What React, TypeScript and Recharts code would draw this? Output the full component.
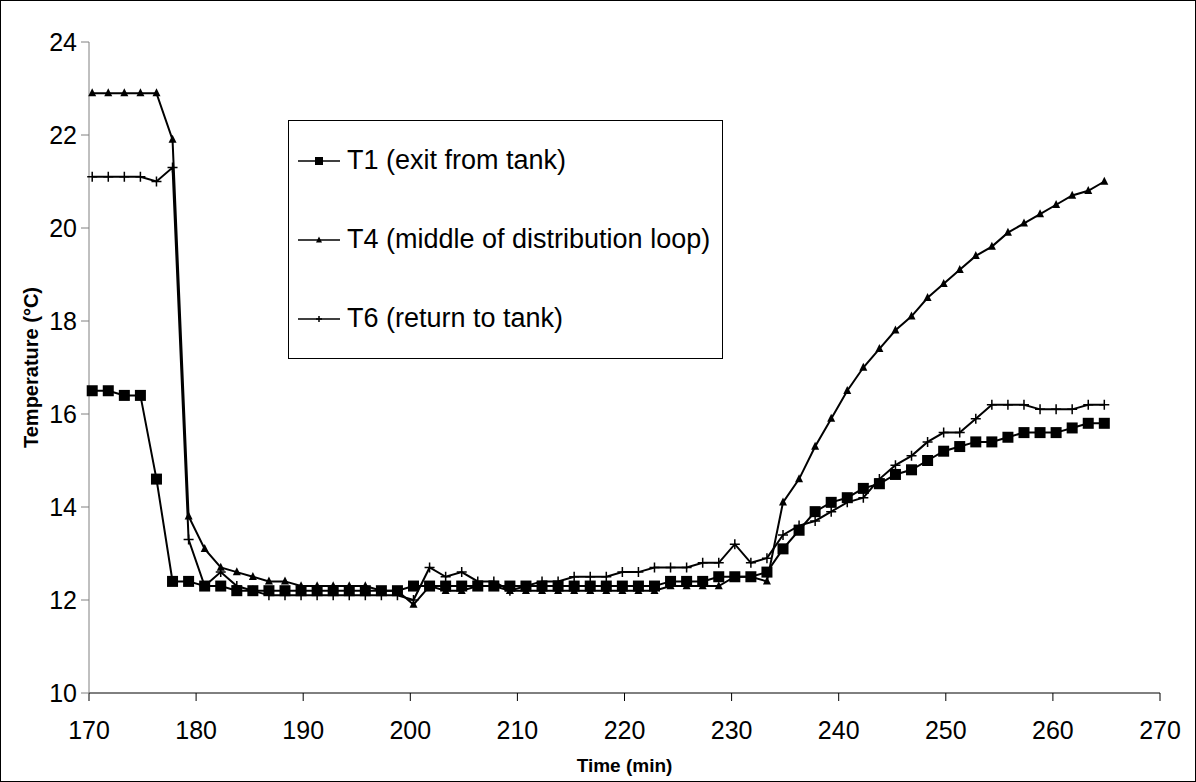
import { LineChart, Line, XAxis, YAxis, Legend } from "recharts";

// time (min) of each sample
const times = [
  170.3, 171.8, 173.3, 174.8, 176.3, 177.8, 179.3, 180.8, 182.3, 183.8,
  185.3, 186.8, 188.3, 189.8, 191.3, 192.8, 194.3, 195.8, 197.3, 198.8,
  200.3, 201.8, 203.3, 204.8, 206.3, 207.8, 209.3, 210.8, 212.3, 213.8,
  215.3, 216.8, 218.3, 219.8, 221.3, 222.8, 224.3, 225.8, 227.3, 228.8,
  230.3, 231.8, 233.3, 234.8, 236.3, 237.8, 239.3, 240.8, 242.3, 243.8,
  245.3, 246.8, 248.3, 249.8, 251.3, 252.8, 254.3, 255.8, 257.3, 258.8,
  260.3, 261.8, 263.3, 264.8,
];

// T1 (exit from tank)
const t1 = [
  16.5, 16.5, 16.4, 16.4, 14.6, 12.4, 12.4, 12.3, 12.3, 12.2,
  12.2, 12.2, 12.2, 12.2, 12.2, 12.2, 12.2, 12.2, 12.2, 12.2,
  12.3, 12.3, 12.3, 12.3, 12.3, 12.3, 12.3, 12.3, 12.3, 12.3,
  12.3, 12.3, 12.3, 12.3, 12.3, 12.3, 12.4, 12.4, 12.4, 12.5,
  12.5, 12.5, 12.6, 13.1, 13.5, 13.9, 14.1, 14.2, 14.4, 14.5,
  14.7, 14.8, 15.0, 15.2, 15.3, 15.4, 15.4, 15.5, 15.6, 15.6,
  15.6, 15.7, 15.8, 15.8,
];

// T4 (middle of distribution loop)
const t4 = [
  22.9, 22.9, 22.9, 22.9, 22.9, 21.9, 13.8, 13.1, 12.7, 12.6,
  12.5, 12.4, 12.4, 12.3, 12.3, 12.3, 12.3, 12.3, 12.2, 12.2,
  11.9, 12.3, 12.2, 12.2, 12.3, 12.3, 12.2, 12.2, 12.2, 12.2,
  12.2, 12.2, 12.2, 12.2, 12.2, 12.2, 12.3, 12.3, 12.3, 12.3,
  12.5, 12.5, 12.4, 14.1, 14.6, 15.3, 15.9, 16.5, 17.0, 17.4,
  17.8, 18.1, 18.5, 18.8, 19.1, 19.4, 19.6, 19.9, 20.1, 20.3,
  20.5, 20.7, 20.8, 21.0,
];

// T6 (return to tank)
const t6 = [
  21.1, 21.1, 21.1, 21.1, 21.0, 21.3, 13.3, 12.3, 12.6, 12.3,
  12.2, 12.1, 12.1, 12.1, 12.1, 12.1, 12.1, 12.1, 12.1, 12.1,
  12.0, 12.7, 12.5, 12.6, 12.4, 12.4, 12.2, 12.3, 12.4, 12.4,
  12.5, 12.5, 12.5, 12.6, 12.6, 12.7, 12.7, 12.7, 12.8, 12.8,
  13.2, 12.8, 12.9, 13.4, 13.6, 13.7, 13.9, 14.1, 14.2, 14.6,
  14.9, 15.1, 15.4, 15.6, 15.6, 15.9, 16.2, 16.2, 16.2, 16.1,
  16.1, 16.1, 16.2, 16.2,
];

const xTicks = [170, 180, 190, 200, 210, 220, 230, 240, 250, 260, 270];
const yTicks = [10, 12, 14, 16, 18, 20, 22, 24];

const data = times.map((t, i) => ({ t, t1: t1[i], t4: t4[i], t6: t6[i] }));

const square = (cx: number, cy: number, s: number) => (
  <rect x={cx - s / 2} y={cy - s / 2} width={s} height={s} fill="#000" />
);
const triangle = (cx: number, cy: number, s: number) => (
  <path
    d={`M${cx},${cy - s * 0.6}L${cx + s / 2},${cy + s * 0.4}L${cx - s / 2},${cy + s * 0.4}Z`}
    fill="#000"
  />
);
const plus = (cx: number, cy: number, s: number) => (
  <path
    d={`M${cx - s / 2},${cy}H${cx + s / 2}M${cx},${cy - s / 2}V${cy + s / 2}`}
    stroke="#000"
    strokeWidth={1.5}
  />
);

const markers: Record<string, (cx: number, cy: number, s: number) => any> = {
  t1: square,
  t4: triangle,
  t6: plus,
};

const dotFor = (key: string, size: number) => (p: any) =>
  p.cx == null || p.cy == null ? null : <g key={`${key}-${p.index}`}>{markers[key](p.cx, p.cy, size)}</g>;

const renderLegend = (props: any) => {
  const items = props.payload || [];
  return (
    <div
      style={{
        width: "100%",
        height: "100%",
        boxSizing: "border-box",
        border: "1px solid #000",
        background: "#fff",
      }}
    >
      {items.map((it: any) => (
        <div
          key={it.dataKey}
          style={{ height: 79, display: "flex", alignItems: "center", paddingLeft: 9 }}
        >
          <svg width={44} height={20} style={{ marginRight: 5 }}>
            <line x1={0} y1={10} x2={42} y2={10} stroke="#000" strokeWidth={1.5} />
            {markers[it.dataKey](21, 10, it.dataKey === "t1" ? 8 : 6)}
          </svg>
          <span style={{ fontSize: 27, color: "#000" }}>{it.value}</span>
        </div>
      ))}
    </div>
  );
};

export default function App() {
  return (
    <div
      style={{
        position: "absolute",
        left: 0,
        top: 0,
        width: 1196,
        height: 782,
        boxSizing: "border-box",
        border: "1px solid #000",
        background: "#fff",
        fontFamily: "'Liberation Sans', Arial, sans-serif",
      }}
    >
      <LineChart
        width={1194}
        height={780}
        data={data}
        margin={{ top: 41, right: 35, left: 0, bottom: 0 }}
      >
        <XAxis
          dataKey="t"
          type="number"
          domain={[170, 270]}
          ticks={xTicks}
          stroke="#000"
          tickSize={8}
          tickMargin={20}
          height={88}
          tick={{ fill: "#000", fontSize: 25 }}
          label={{
            value: "Time (min)",
            position: "insideBottom",
            offset: 9,
            style: { fontWeight: "bold", fontSize: 19, fill: "#000" },
          }}
        />
        <YAxis
          type="number"
          domain={[10, 24]}
          ticks={yTicks}
          stroke="#808080"
          tickSize={8}
          tickMargin={4}
          width={88}
          tick={{ fill: "#000", fontSize: 25 }}
          label={{
            value: "Temperature (°C)",
            angle: -90,
            position: "insideLeft",
            offset: 30,
            style: { textAnchor: "middle", fontWeight: "bold", fontSize: 20, fill: "#000" },
          }}
        />
        <Legend
          layout="vertical"
          align="center"
          verticalAlign="middle"
          content={renderLegend}
          wrapperStyle={{ left: 287, top: 119, width: 435, height: 239 }}
        />
        <Line
          dataKey="t1"
          name="T1 (exit from tank)"
          stroke="#000"
          strokeWidth={2}
          dot={dotFor("t1", 11)}
          activeDot={false}
          isAnimationActive={false}
        />
        <Line
          dataKey="t4"
          name="T4 (middle of distribution loop)"
          stroke="#000"
          strokeWidth={2}
          dot={dotFor("t4", 8)}
          activeDot={false}
          isAnimationActive={false}
        />
        <Line
          dataKey="t6"
          name="T6 (return to tank)"
          stroke="#000"
          strokeWidth={2}
          dot={dotFor("t6", 10)}
          activeDot={false}
          isAnimationActive={false}
        />
      </LineChart>
    </div>
  );
}
